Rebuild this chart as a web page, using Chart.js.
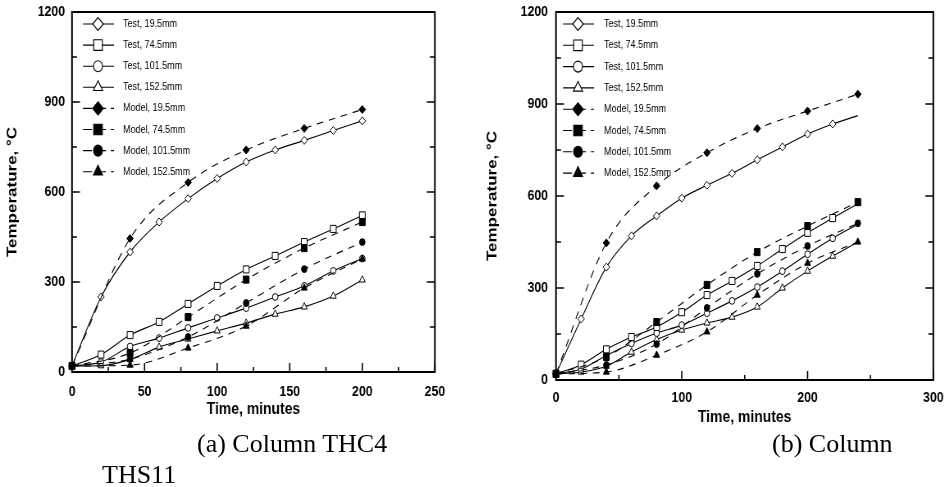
<!DOCTYPE html>
<html>
<head>
<meta charset="utf-8">
<script src="https://cdn.jsdelivr.net/npm/chart.js@4.4.1/dist/chart.umd.min.js"></script>
<style>
  body { margin: 0; background: #fff; width: 952px; height: 487px; position: relative; overflow: hidden; }
  /* the original figure is horizontally condensed, so squeeze each canvas */
  canvas { position: absolute; top: 0; transform: scaleX(0.82); transform-origin: 0 0; }
  .cap { position: absolute; font-family: "Liberation Serif", "Times New Roman", serif; font-size: 26px; line-height: 26px; white-space: nowrap; color: #000; }
</style>
</head>
<body>
<canvas id="thc4" width="573" height="432" style="left:0"></canvas>
<canvas id="ths11" width="576" height="432" style="left:480px"></canvas>
<div class="cap" style="left:197px;top:431px">(a) Column THC4</div>
<div class="cap" style="left:772px;top:431px">(b) Column</div>
<div class="cap" style="left:102px;top:462px">THS11</div>

<script>
// ---- series names ----
const testLabels  = ["Test, 19.5mm", "Test, 74.5mm", "Test, 101.5mm", "Test, 152.5mm"];
const modelLabels = ["Model, 19.5mm", "Model, 74.5mm", "Model, 101.5mm", "Model, 152.5mm"];

// ---- (a) column THC4 ----
const timeTestA  = [0, 20, 40, 60, 80, 100, 120, 140, 160, 180, 200];
const timeModelA = [0, 40, 80, 120, 160, 200];
const test19A  = [20, 250, 400, 500, 578, 645, 700, 740, 772, 805, 837];
const test74A  = [20, 58, 123, 167, 227, 287, 342, 387, 433, 477, 522];
const test101A = [20, 33, 85, 113, 147, 180, 213, 250, 287, 337, 378];
const test152A = [20, 21, 42, 83, 110, 137, 163, 193, 217, 253, 307];
const model19A  = [20, 445, 632, 740, 812, 875];
const model74A  = [20, 63, 183, 308, 413, 500];
const model101A = [20, 43, 117, 230, 343, 433];
const model152A = [20, 23, 80, 153, 280, 377];
const xTicksA = [0, 50, 100, 150, 200, 250];

// ---- (b) column THS11 ----
const timeTestB  = [0, 20, 40, 60, 80, 100, 120, 140, 160, 180, 200, 220, 240];
const timeModelB = [0, 40, 80, 120, 160, 200, 240];
const test19B  = [20, 199, 368, 470, 535, 593, 635, 674, 718, 760, 802, 835, 862];
const test74B  = [20, 50, 100, 140, 173, 221, 277, 323, 372, 427, 480, 528, 575];
const test101B = [20, 36, 80, 119, 153, 179, 218, 258, 303, 355, 410, 462, 508];
const test152B = [20, 26, 45, 91, 132, 163, 186, 205, 238, 300, 355, 404, 450];
const model19B  = [20, 447, 633, 741, 820, 877, 932];
const model74B  = [20, 75, 189, 310, 417, 502, 580];
const model101B = [20, 49, 117, 235, 346, 437, 511];
const model152B = [20, 26, 81, 157, 277, 381, 450];
const xTicksB = [0, 100, 200, 300];

const yTicks = [0, 300, 600, 900, 1200];

// ---- styles ----
const K = 0.82; // horizontal squeeze, same as the css
const markers = ["rectRot", "rect", "circle", "triangle"];
const markerR = { rectRot: 4, rect: 5, circle: 3.4, triangle: 4.2 };
const legendR = { rectRot: 6.5, rect: 7.5, circle: 5.5, triangle: 6.5 };
const sans = "'Liberation Sans', Arial, sans-serif";

function makeSets(tTest, tModel, tests, models, noEndMarker) {
  const sets = [];
  tests.forEach((vals, i) => {
    sets.push({
      label: testLabels[i],
      data: tTest.map((t, k) => ({ x: t, y: vals[k] })),
      borderColor: "#000",
      borderWidth: 1.1,
      pointStyle: markers[i],
      pointRadius: ctx => (noEndMarker && ctx.dataIndex === tTest.length - 1) ? 0 : markerR[markers[i]],
      pointBackgroundColor: "#fff",
      pointBorderColor: "#000",
      pointBorderWidth: 1,
      cubicInterpolationMode: "monotone",
      clip: false,
      order: 1
    });
  });
  models.forEach((vals, i) => {
    sets.push({
      label: modelLabels[i],
      data: tModel.map((t, k) => ({ x: t, y: vals[k] })),
      borderColor: "#000",
      borderWidth: 1.1,
      borderDash: [8, 7],
      pointStyle: markers[i],
      pointRadius: markerR[markers[i]],
      pointBackgroundColor: "#000",
      pointBorderColor: "#000",
      pointBorderWidth: 1,
      cubicInterpolationMode: "monotone",
      clip: false,
      order: 0
    });
  });
  return sets;
}

// legend drawn inside plot, line sample + marker
const insideLegend = {
  id: "insideLegend",
  afterDraw(chart, args, o) {
    const { ctx, chartArea: a } = chart;
    ctx.save();
    chart.data.datasets.forEach((ds, i) => {
      const y = a.top + o.top + i * o.step;
      ctx.strokeStyle = "#000";
      ctx.lineWidth = 1.1;
      ctx.setLineDash(ds.borderDash ? [11, 6] : []);
      ctx.beginPath();
      ctx.moveTo(a.left + o.lineFrom / K, y);
      ctx.lineTo(a.left + o.lineTo / K, y);
      ctx.stroke();
      ctx.setLineDash([]);
      ctx.fillStyle = ds.pointBackgroundColor;
      Chart.helpers.drawPoint(ctx, { pointStyle: ds.pointStyle, radius: legendR[ds.pointStyle], rotation: 0, borderWidth: 1 }, a.left + o.marker / K, y);
      ctx.fillStyle = "#000";
      ctx.font = "11px " + sans;
      ctx.textBaseline = "middle";
      ctx.textAlign = "left";
      ctx.fillText(ds.label, a.left + o.text / K, y);
    });
    ctx.restore();
  }
};

// box frame with inward ticks (left, right, bottom)
const frameTicks = {
  id: "frameTicks",
  afterDatasetsDraw(chart, args, o) {
    const { ctx, chartArea: a, scales } = chart;
    const xs = scales.x, ys = scales.y;
    ctx.save();
    ctx.strokeStyle = "#000";
    ctx.lineWidth = 2;
    ctx.strokeRect(a.left, a.top, a.right - a.left, a.bottom - a.top);
    ctx.lineWidth = 1.6;
    ctx.beginPath();
    const mids = arr => arr.slice(1).map((v, k) => (v + arr[k]) / 2);
    const xMaj = o.xTicks, yMaj = yTicks;
    xMaj.forEach(v => { const p = xs.getPixelForValue(v); ctx.moveTo(p, a.bottom); ctx.lineTo(p, a.bottom - 9); });
    mids(xMaj).forEach(v => { const p = xs.getPixelForValue(v); ctx.moveTo(p, a.bottom); ctx.lineTo(p, a.bottom - 5); });
    yMaj.forEach(v => {
      const p = ys.getPixelForValue(v);
      ctx.moveTo(a.left, p); ctx.lineTo(a.left + 8 / K, p);
      ctx.moveTo(a.right, p); ctx.lineTo(a.right - 8 / K, p);
    });
    mids(yMaj).forEach(v => {
      const p = ys.getPixelForValue(v);
      ctx.moveTo(a.left, p); ctx.lineTo(a.left + 5 / K, p);
      ctx.moveTo(a.right, p); ctx.lineTo(a.right - 5 / K, p);
    });
    ctx.stroke();
    ctx.restore();
  }
};

function makeChart(id, sets, xMax, xTicks, g) {
  return new Chart(document.getElementById(id), {
    type: "line",
    data: { datasets: sets },
    plugins: [frameTicks, insideLegend],
    options: {
      responsive: false,
      animation: false,
      events: [],
      layout: { padding: { left: 0, top: 12, right: g.padRight / K, bottom: 0 } },
      plugins: {
        legend: { display: false },
        tooltip: { enabled: false },
        frameTicks: { xTicks: xTicks },
        insideLegend: g.legend
      },
      scales: {
        x: {
          type: "linear",
          min: 0,
          max: xMax,
          afterBuildTicks: s => { s.ticks = xTicks.map(v => ({ value: v })); },
          afterFit: s => { s.height = g.xHeight; },
          grid: { display: false, drawTicks: false },
          border: { display: false },
          ticks: { color: "#000", padding: g.xTickPad, callback: v => String(v),
                   font: { family: sans, size: 15, weight: "bold" } },
          title: { display: true, text: "Time, minutes", color: "#000",
                   font: { family: sans, size: 17, weight: "bold" }, padding: { top: 0, bottom: g.xTitlePad } }
        },
        y: {
          min: 0,
          max: 1200,
          afterBuildTicks: s => { s.ticks = yTicks.map(v => ({ value: v })); },
          afterFit: s => { s.width = g.yWidth / K; s.paddingTop = 0; s.paddingBottom = 0; },
          grid: { display: false, drawTicks: false },
          border: { display: false },
          ticks: { color: "#000", padding: g.yTickPad / K, callback: v => String(v),
                   font: { family: sans, size: 15, weight: "bold" } },
          title: { display: true, text: "Temperature, °C", color: "#000",
                   font: { family: sans, size: 17, weight: "bold" }, padding: { top: 5, bottom: 0 } }
        }
      }
    }
  });
}

makeChart("thc4",
  makeSets(timeTestA, timeModelA, [test19A, test74A, test101A, test152A], [model19A, model74A, model101A, model152A], false),
  250, xTicksA,
  { padRight: 35, xHeight: 60, yWidth: 72, xTickPad: 11, yTickPad: 7, xTitlePad: 12,
    legend: { top: 12, step: 21.1, lineFrom: 11, lineTo: 42, marker: 26, text: 51 } });

makeChart("ths11",
  makeSets(timeTestB, timeModelB, [test19B, test74B, test101B, test152B], [model19B, model74B, model101B, model152B], true),
  300, xTicksB,
  { padRight: 19, xHeight: 52, yWidth: 76, xTickPad: 9, yTickPad: 8, xTitlePad: 4,
    legend: { top: 12, step: 21.3, lineFrom: 7, lineTo: 38, marker: 22, text: 48 } });
</script>
</body>
</html>
